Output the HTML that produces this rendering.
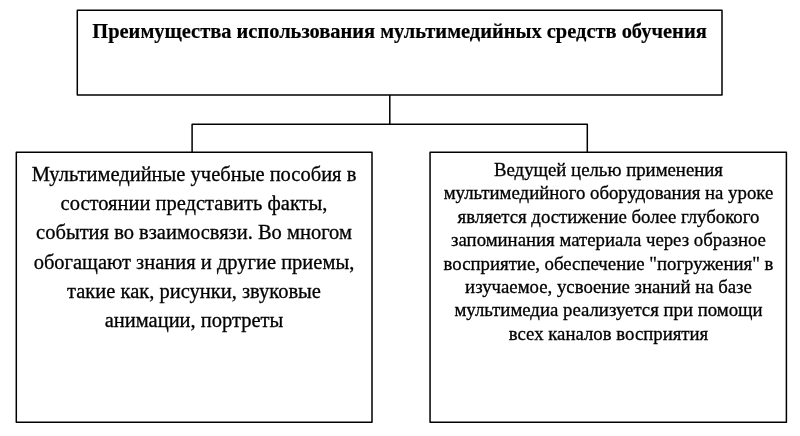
<!DOCTYPE html>
<html lang="ru">
<head>
<meta charset="utf-8">
<title>Преимущества использования мультимедийных средств обучения</title>
<style>
html,body{margin:0;padding:0;background:#fff;}
body{width:800px;height:436px;position:relative;overflow:hidden;font-family:"Liberation Serif",serif;color:#000;}
svg{position:absolute;left:0;top:0;}
.ln{position:absolute;will-change:transform;-webkit-text-stroke:0.3px #000;white-space:nowrap;text-align:center;line-height:1;}
.t{font-weight:bold;font-size:20.46px;left:76.85px;-webkit-text-stroke-width:0.2px;width:645px;}
.l{font-size:20.5px;left:16px;width:356px;}
.r{font-size:18.8px;left:429.9px;width:357px;}
</style>
</head>
<body>
<svg width="800" height="436" viewBox="0 0 800 436">
  <g fill="none" stroke="#000" stroke-width="1.5" stroke-linejoin="round">
    <rect x="77.3" y="10.3" width="644.70" height="84.60"/>
    <rect x="16.3" y="152.3" width="355.70" height="269.90"/>
    <rect x="430.05" y="152.35" width="356.35" height="269.80"/>
    <path d="M389.8 94.9V124.35M192.1 152.3V124.35H587.3V152.3"/>
  </g>
</svg>
<div class="ln t" style="top:21.27px">Преимущества использования мультимедийных средств обучения</div>

<div class="ln l" style="top:163.84px">Мультимедийные учебные пособия в</div>
<div class="ln l" style="top:193.44px">состоянии представить факты,</div>
<div class="ln l" style="top:222.14px">события во взаимосвязи. Во многом</div>
<div class="ln l" style="top:251.54px">обогащают знания и другие приемы,</div>
<div class="ln l" style="top:280.94px">такие как, рисунки, звуковые</div>
<div class="ln l" style="top:310.24px">анимации, портреты</div>

<div class="ln r" style="top:160.76px">Ведущей целью применения</div>
<div class="ln r" style="top:184.21px">мультимедийного оборудования на уроке</div>
<div class="ln r" style="top:207.66px">является достижение более глубокого</div>
<div class="ln r" style="top:231.11px">запоминания материала через образное</div>
<div class="ln r" style="top:254.56px">восприятие, обеспечение "погружения" в</div>
<div class="ln r" style="top:278.01px">изучаемое, усвоение знаний на базе</div>
<div class="ln r" style="top:301.46px">мультимедиа реализуется при помощи</div>
<div class="ln r" style="top:324.91px">всех каналов восприятия</div>
</body>
</html>
